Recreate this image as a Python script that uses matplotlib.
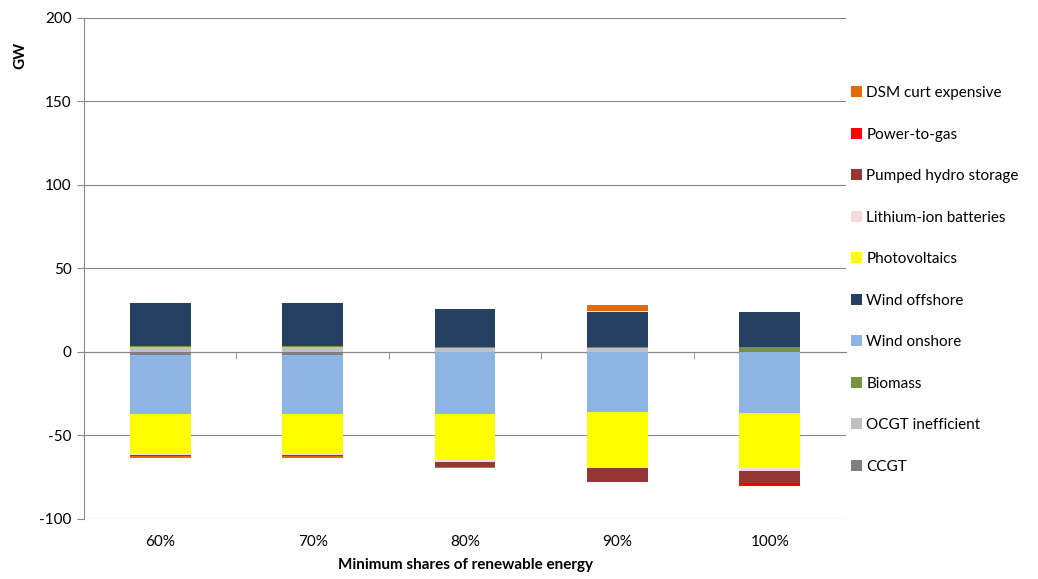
import numpy as np
import matplotlib
matplotlib.use("Agg")
import matplotlib.pyplot as plt
from matplotlib.patches import Patch

plt.rcParams["font.family"] = ["Lato", "DejaVu Sans"]
plt.rcParams["axes.unicode_minus"] = False

# Données (GW)
categories = ["60%", "70%", "80%", "90%", "100%"]
series_names = [
    "CCGT", "OCGT inefficient", "Biomass", "Wind onshore", "Wind offshore",
    "Photovoltaics", "Lithium-ion batteries", "Pumped hydro storage",
    "Power-to-gas", "DSM curt expensive",
]
ccgt = [-2.0, -2.0, 0.0, 0.0, 0.0]
ocgt = [2.7, 2.7, 2.4, 2.4, 0.0]
biomass = [1.0, 1.0, 0.6, 0.6, 2.8]
wind_onshore = [-34.9, -34.9, -37.4, -36.2, -36.3]
wind_offshore = [25.7, 25.7, 22.7, 21.0, 21.0]
photovoltaics = [-23.8, -23.8, -26.7, -33.3, -32.3]
lithium = [-1.0, -1.0, -1.6, 0.5, -2.4]
pumped_hydro = [-0.8, -0.8, -3.0, -8.4, -7.4]
power_to_gas = [0.0, 0.0, 0.0, 0.0, -1.6]
dsm = [-1.0, -1.0, -0.8, 3.6, 0.0]

COLORS = ["#7F7F7F", "#BFBFBF", "#77933C", "#8EB4E3", "#254061",
          "#FFFF00", "#F2DCDB", "#953735", "#FF0000", "#E36C09"]
GRID = "#888888"
FS = 11

values = [ccgt, ocgt, biomass, wind_onshore, wind_offshore,
          photovoltaics, lithium, pumped_hydro, power_to_gas, dsm]

fig = plt.figure(figsize=(10.38, 5.79), dpi=100)
ax = fig.add_axes([84 / 1038, 1 - 519 / 579, (846 - 84) / 1038, (519 - 18) / 579])

x = np.arange(len(categories))
pos_base = np.zeros(len(categories))
neg_base = np.zeros(len(categories))
for name, vals, col in zip(series_names, values, COLORS):
    v = np.array(vals)
    bottom = np.where(v >= 0, pos_base, neg_base)
    ax.bar(x, v, width=0.4, bottom=bottom, color=col, linewidth=0, zorder=3)
    pos_base += np.where(v > 0, v, 0)
    neg_base += np.where(v < 0, v, 0)

ax.set_xlim(-0.5, len(categories) - 0.5)
ax.set_ylim(-100, 200)
ax.set_yticks(np.arange(-100, 201, 50))
ax.yaxis.grid(True, color=GRID, linewidth=0.8, zorder=0)

for side in ["top", "right"]:
    ax.spines[side].set_visible(False)
ax.spines["left"].set_color(GRID)
ax.spines["bottom"].set_color(GRID)
ax.spines["bottom"].set_position(("data", 0))
ax.spines["bottom"].set_zorder(2)

ax.tick_params(axis="y", direction="out", length=5, color=GRID, labelsize=FS, pad=4)
ax.set_xticks(x)
ax.set_xticklabels(categories)
ax.tick_params(axis="x", which="major", length=0, labelsize=FS, pad=132)
ax.set_xticks(np.arange(0.5, len(categories) - 0.5, 1), minor=True)
ax.tick_params(axis="x", which="minor", direction="out", length=5, color=GRID)

fig.text(0.5 * (84 + 846) / 1038, 1 - 565 / 579, "Minimum shares of renewable energy",
         ha="center", va="center", fontsize=FS, fontweight="bold")
fig.text(20 / 1038, 1 - 55 / 579, "GW", rotation=90, ha="center", va="center",
         fontsize=FS, fontweight="bold")

handles = [Patch(facecolor=c, edgecolor="none") for c in COLORS]
fig.legend(handles[::-1], series_names[::-1], loc="upper left",
           bbox_to_anchor=(845 / 1038, 1 - 80 / 579), frameon=False,
           fontsize=FS, handlelength=0.7, handleheight=0.7, handletextpad=0.3,
           labelspacing=1.8, borderaxespad=0)

fig.savefig("out.png", dpi=100)
